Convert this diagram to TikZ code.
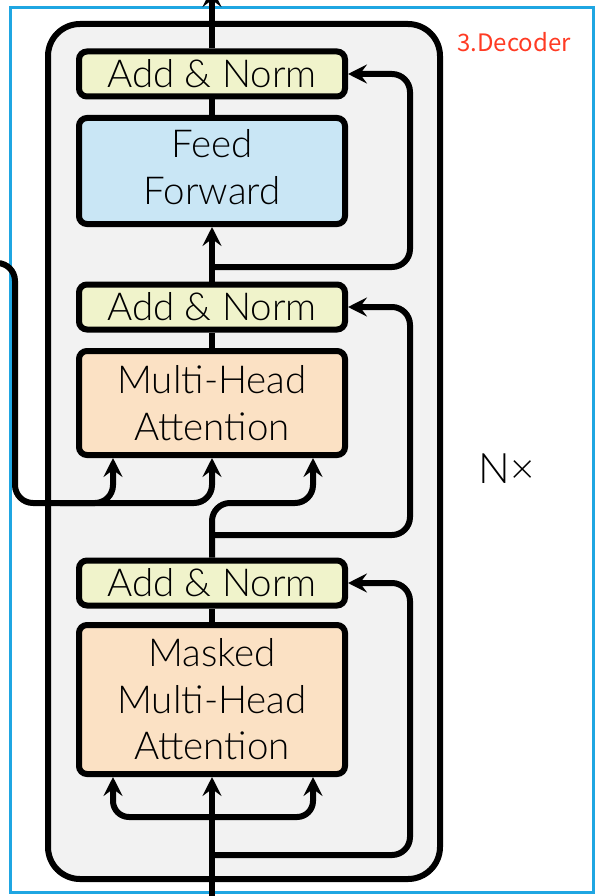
\documentclass[tikz,border=0pt]{standalone}
\usepackage{fontspec}
\usetikzlibrary{arrows.meta,calc}
\newfontfamily\labelfont{Lato Light}
\newfontfamily\titlefont{Noto Sans CJK SC}
\definecolor{normfill}{HTML}{F0F3CB}
\definecolor{ffnfill}{HTML}{C9E6F5}
\definecolor{attfill}{HTML}{FBE1C4}
\definecolor{layerfill}{HTML}{F2F2F2}
\definecolor{framecol}{HTML}{1FA6E2}
\definecolor{titlecol}{HTML}{FF3B24}

\begin{document}
\begin{tikzpicture}[x=1pt,y=-1pt,
  wire/.style={line width=6pt, rounded corners=18pt},
  arr/.style={wire, -{Stealth[length=19pt,width=19pt,inset=7pt]}},
  blk/.style={draw, line width=6pt, rounded corners=8pt, minimum width=266pt,
    inner sep=0pt, align=center, font=\labelfont\fontsize{38.5}{46.5}\selectfont},
  norm/.style={blk, fill=normfill, minimum height=45pt},
  ffn/.style={blk, fill=ffnfill, minimum height=106pt},
  att/.style={blk, fill=attfill},
]
\useasboundingbox (0,0) rectangle (608,896);
\clip (0,0) rectangle (608,896);

% outer frame and the decoder layer container
\draw[framecol, line width=3pt] (10,8) rectangle (593,892);
\node[draw, line width=6pt, fill=layerfill, rounded corners=32pt,
  minimum width=392pt, minimum height=855pt, inner sep=0pt] (layer) at (244,451.5) {};

\node[font=\titlefont\fontsize{24}{28}\selectfont, text=titlecol, anchor=base, inner sep=0pt]
  (title) at (514,52) {3.Decoder};
\node[font=\labelfont\fontsize{42}{48}\selectfont, anchor=base, inner sep=0pt]
  (nx) at (507,483) {N×};

% sub-layers
\node[norm] (an1) at (212,74) {Add \& Norm};
\node[ffn] (ff) at (212,171) {};
\node[font=\labelfont\fontsize{38.5}{46.5}\selectfont, align=center, inner sep=0pt]
  (fftext) at (212,167) {Feed\\Forward};
\node[norm] (an2) at (212,307) {Add \& Norm};
\node[att, minimum height=104pt] (mha) at (212,403) {Multi-Head\\Attention};
\node[norm] (an3) at (212,583) {Add \& Norm};
\node[att, minimum height=149pt] (mmha) at (212,699.5) {Masked\\Multi-Head\\Attention};

% helper coordinates
\coordinate (out) at (212,-12);
\coordinate (in) at (212,905);
\coordinate (rx) at (410,0);
\coordinate (r1) at (212,267);
\coordinate (r2) at (212,535);
\coordinate (r3) at (212,855);
\coordinate (bus) at (0,503);
\coordinate (fk) at (212,817);
\coordinate (enc) at (-10,263);
\coordinate (ex) at (15,0);
\coordinate (eb) at (60,503);
\coordinate (mk) at ($(mha.south)+(-99,0)$);
\coordinate (mv) at (mha.south);
\coordinate (mq) at ($(mha.south)+(101,0)$);
\coordinate (sk) at ($(mmha.south)+(-99,0)$);
\coordinate (sq) at ($(mmha.south)+(101,0)$);

% main data path
\draw[arr] (in) -- (mmha.south);
\draw[wire] (mmha.north) -- (an3.south);
\draw[arr] (an3.north) -- (an3.north |- bus) -- (mq |- bus) -- (mq);
\draw[wire] (mha.north) -- (an2.south);
\draw[arr] (an2.north) -- (ff.south);
\draw[wire] (ff.north) -- (an1.south);
\draw[arr] (an1.north) -- (out);

% masked attention inputs
\draw[arr, rounded corners=16pt] (fk) -- (sk |- fk) -- (sk);
\draw[arr, rounded corners=16pt] (fk) -- (sq |- fk) -- (sq);

% encoder output into cross attention
\draw[arr] (enc) -- (ex |- enc) -- (ex |- bus) -- (mk |- bus) -- (mk);
\draw[arr] (eb) -- (mv |- bus) -- (mv);

% residual connections
\draw[arr] (r3) -- (rx |- r3) -- (rx |- an3.east) -- (an3.east);
\draw[arr] (r2) -- (rx |- r2) -- (rx |- an2.east) -- (an2.east);
\draw[arr] (r1) -- (rx |- r1) -- (rx |- an1.east) -- (an1.east);
\end{tikzpicture}
\end{document}
